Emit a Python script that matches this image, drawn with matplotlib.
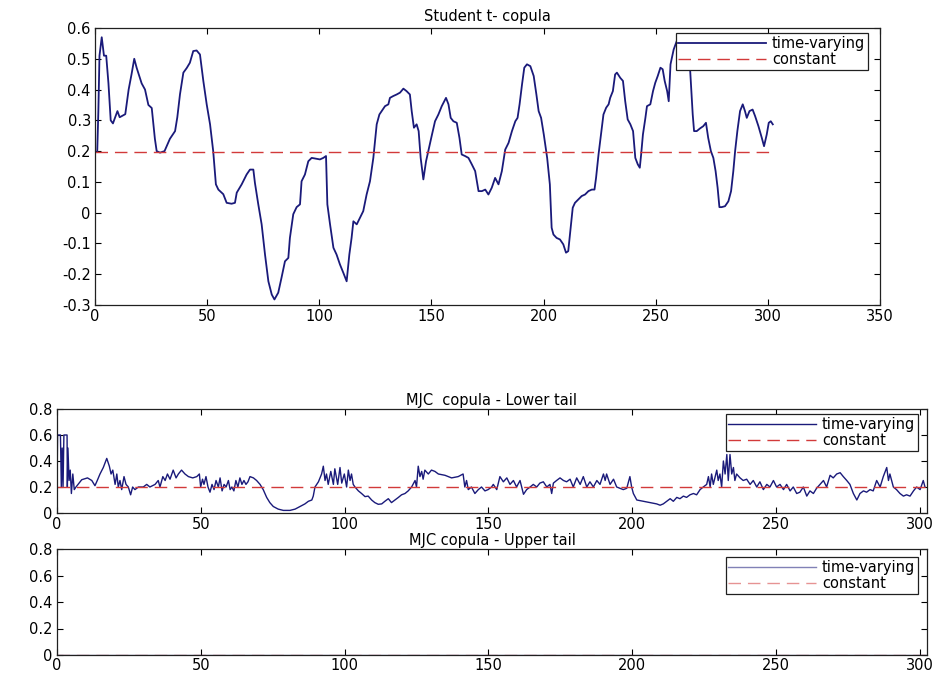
import matplotlib
matplotlib.use("Agg")
import matplotlib.pyplot as plt

plt.rcParams['font.family'] = ['DejaVu Sans']

# ---------------- data ----------------
# Student t copula: time-varying correlation
t_x = [1, 1.5, 2, 3, 4, 5, 6, 7, 8, 10, 11, 13.5, 15, 16.3, 17.5, 18.6, 20.8, 22.3, 23.8, 25.3,
       26.7, 27.5, 29, 31, 33.4, 35.7, 36.7, 37.9, 39.4, 40.9, 42.3, 43.8, 45.3, 46.8, 48.3, 49.8,
       51.3, 52.7, 53.9, 55, 57.2, 58.7, 60.9, 62.4, 63.2, 65.4, 67.6, 69.1, 70.6, 71.3, 72.8, 74.3,
       75.8, 77.3, 78.8, 80, 81.7, 83.2, 84.7, 86.2, 86.9, 88.4, 89.9, 91.4, 92.1, 93.6, 95.1, 96.6,
       98.8, 100.3, 101.8, 103, 103.6, 104.8, 106.3, 107.7, 109.2, 110.7, 112.2, 113.4, 114.4, 115.2,
       116.7, 118.1, 119.6, 121.1, 122.6, 124.1, 125.6, 126.8, 127.8, 129.3, 130.8, 131.5, 133, 134.5,
       136, 137.5, 138.9, 140.4, 141.2, 142.2, 143.4, 144.3, 145.2, 146.4, 147.6, 148.6, 150.1, 151.6,
       153.1, 154.6, 156.5, 157.6, 158.6, 159.8, 161.3, 162.5, 163.5, 165, 166.5, 168, 169.5, 171,
       172.5, 174, 175.4, 176.9, 178.4, 179.9, 181.4, 182.9, 184.4, 185.9, 187.4, 188.4, 189.3, 190.4,
       191.4, 192.6, 194.1, 195.6, 196.8, 197.8, 198.9, 200.1, 201.6, 202.8, 203.6, 204.4, 205.8,
       207.3, 208.8, 210, 211, 212.1, 213, 214, 215.5, 217, 218.5, 220, 221.5, 222.7, 223.4, 224.5,
       225.6, 226.7, 227.9, 229, 229.7, 230.9, 231.9, 232.7, 234.2, 235.4, 236.4, 237.5, 238.7, 239.9,
       240.9, 242, 242.9, 243.5, 244.3, 245.4, 246.1, 247.6, 248.8, 249.8, 250.9, 252.1, 253.1, 254,
       255.1, 255.8, 256.6, 258, 259.5, 261, 262.5, 264, 265.3, 266.5, 267.1, 268.3, 269.8, 271.2,
       272.4, 273.4, 274.6, 275.7, 276.7, 277.6, 278.4, 279.4, 280.9, 282.4, 283.6, 284.6, 285.4,
       286.4, 287.6, 288.8, 289.8, 290.6, 291.8, 293.2, 294.3, 295.8, 297.3, 298.3, 299.5, 300.4,
       301.3, 302.2]
t_tv = [0.20, 0.33, 0.51, 0.57, 0.51, 0.51, 0.42, 0.30, 0.29, 0.33, 0.31, 0.32, 0.40, 0.45, 0.50,
        0.47, 0.42, 0.40, 0.35, 0.34, 0.24, 0.20, 0.195, 0.20, 0.24, 0.265, 0.31, 0.385, 0.455, 0.47,
        0.487, 0.525, 0.527, 0.514, 0.428, 0.352, 0.287, 0.20, 0.092, 0.075, 0.06, 0.032, 0.029,
        0.032, 0.065, 0.092, 0.124, 0.14, 0.14, 0.097, 0.027, -0.038, -0.136, -0.223, -0.266, -0.282,
        -0.26, -0.21, -0.158, -0.147, -0.082, -0.005, 0.018, 0.027, 0.102, 0.124, 0.167, 0.178, 0.175,
        0.173, 0.178, 0.184, 0.027, -0.038, -0.114, -0.136, -0.168, -0.195, -0.223, -0.136, -0.082,
        -0.028, -0.038, -0.017, 0.005, 0.059, 0.102, 0.178, 0.287, 0.319, 0.33, 0.346, 0.352, 0.373,
        0.379, 0.384, 0.39, 0.403, 0.395, 0.384, 0.33, 0.276, 0.287, 0.265, 0.178, 0.108, 0.167, 0.2,
        0.249, 0.297, 0.319, 0.346, 0.373, 0.352, 0.308, 0.297, 0.292, 0.243, 0.189, 0.184, 0.178,
        0.157, 0.135, 0.07, 0.07, 0.075, 0.059, 0.081, 0.113, 0.092, 0.135, 0.205, 0.227, 0.265,
        0.297, 0.308, 0.352, 0.417, 0.471, 0.482, 0.476, 0.444, 0.384, 0.33, 0.308, 0.254, 0.178,
        0.092, -0.049, -0.071, -0.082, -0.087, -0.103, -0.13, -0.125, -0.049, 0.016, 0.032, 0.043,
        0.054, 0.059, 0.07, 0.075, 0.075, 0.113, 0.189, 0.254, 0.319, 0.341, 0.352, 0.373, 0.395,
        0.449, 0.455, 0.438, 0.428, 0.362, 0.303, 0.287, 0.265, 0.178, 0.157, 0.146, 0.189, 0.254,
        0.308, 0.346, 0.352, 0.395, 0.422, 0.444, 0.471, 0.466, 0.428, 0.395, 0.362, 0.482, 0.53,
        0.56, 0.57, 0.55, 0.52, 0.47, 0.319, 0.265, 0.265, 0.274, 0.281, 0.292, 0.243, 0.2, 0.178,
        0.135, 0.081, 0.018, 0.018, 0.021, 0.037, 0.07, 0.135, 0.2, 0.265, 0.33, 0.352, 0.33, 0.308,
        0.33, 0.335, 0.314, 0.281, 0.243, 0.216, 0.254, 0.292, 0.297, 0.287]
t_const_x = [0, 302]
t_const = [0.198, 0.198]

# MJC copula - lower tail dependence
low_x = [0, 0.2, 1.2, 1.5, 1.8, 2.1, 2.4, 3.5, 3.6, 3.8, 4.2, 4.6, 5, 5.5, 6, 6.6,
         8.6, 10.6, 12.1, 13.2, 14.0, 14.95, 16.1, 17.3, 18.2, 18.8, 19.4, 20.2, 20.8, 21.3, 21.9,
         22.5, 23.3, 24.0, 24.8, 25.6, 26.3, 27.1, 28.3, 30.0, 31.2, 32.3, 34.1, 35.2, 35.8, 36.8,
         37.6, 38.4, 39.3, 40.4, 41.4, 42.2, 43.3, 44.5, 45.7, 47.2, 48.6, 49.5, 49.95, 50.6, 51.1,
         51.8, 52.5, 53.2, 53.9, 54.6, 55.3, 56.1, 56.7, 57.4, 58.1, 58.8, 59.6, 60.2, 60.8, 61.5,
         62.2, 62.9, 63.6, 64.3, 65.0, 65.7, 66.4, 67.1, 68.3, 69.4, 70.6, 71.7, 72.9, 74.0, 75.2,
         76.9, 78.7, 81.0, 82.8, 84.5, 86.2, 87.4, 88.6, 89.1, 89.7, 90.9,
         92.0, 92.6, 93.2, 93.7, 94.3, 95.2, 96.1, 96.6, 97.6, 98.4, 99.0, 99.9, 100.7, 101.3, 101.9,
         102.4, 103.0, 103.6, 104.8, 105.9, 107.1, 108.2, 109.4, 110.5, 111.7, 112.9, 114.0, 115.2,
         116.3, 117.5, 118.7, 119.8, 121.0, 122.1, 123.3, 124.5, 125.0, 125.6, 126.2, 126.8, 127.3,
         127.9, 129.1, 130.2, 131.4, 132.6, 134.9, 137.2, 139.5, 141.2, 141.8, 142.4, 143.0, 144.1,
         145.3, 146.5, 147.6, 148.8, 149.9, 151.1,
         151.7, 152.9, 154.0, 155.2, 156.4, 157.5, 158.7, 159.8, 161.0, 162.2, 163.3, 164.5, 165.6,
         166.8, 167.9, 169.1, 170.3, 171.4, 172.0, 172.6, 173.7, 174.9, 176.1, 177.2, 178.4, 179.5,
         180.7, 181.9, 183.0, 184.2, 185.3, 186.5, 187.7, 188.8, 190.0, 190.6, 191.1, 192.3, 193.5,
         194.6, 195.8, 196.9, 198.1, 199.2, 199.8, 200.4, 201.6, 203.9, 206.2, 208.5, 209.7, 210.8,
         212.0, 213.2, 214.3, 215.5, 216.6, 217.8, 218.9, 220.1, 221.3, 222.4, 223.6, 224.7, 225.9,
         226.5, 227.1, 227.6, 228.2, 229.4, 229.9, 230.5, 231.1, 231.7, 232.3, 232.9, 233.4, 234.0,
         234.6, 235.2, 235.7, 236.3, 237.5, 238.6, 239.8, 241.0, 242.1, 243.3, 244.4, 245.6, 246.8,
         247.9, 249.1, 250.2, 251.4, 252.6, 253.7, 254.9, 256.0, 257.2, 258.3, 259.5, 260.7, 261.8,
         263.0, 264.1, 265.3, 266.5, 267.6, 268.8, 269.9, 271.1, 272.3, 273.4, 274.6, 275.7, 276.9,
         278.1, 279.2, 280.4, 281.5, 282.7, 283.8, 285.0, 286.2, 287.3, 288.5, 289.1, 289.6, 290.8,
         291.9, 293.1, 294.3, 295.4, 296.6, 297.8, 298.9, 300.1, 301.2, 301.8]
low_tv = [0.2, 0.6, 0.6, 0.2, 0.5, 0.2, 0.6, 0.6, 0.2, 0.5, 0.25, 0.33, 0.15, 0.3, 0.18, 0.2,
          0.256, 0.27, 0.25, 0.21, 0.25, 0.30, 0.35, 0.42, 0.36, 0.30, 0.33, 0.22, 0.30, 0.20, 0.25,
          0.18, 0.28, 0.22, 0.20, 0.14, 0.20, 0.18, 0.20, 0.20, 0.22, 0.20, 0.22, 0.25, 0.20, 0.28,
          0.25, 0.30, 0.26, 0.33, 0.27, 0.30, 0.33, 0.30, 0.28, 0.27, 0.28, 0.30, 0.20, 0.26, 0.22,
          0.28, 0.20, 0.16, 0.22, 0.18, 0.25, 0.20, 0.27, 0.17, 0.22, 0.20, 0.25, 0.18, 0.20, 0.17,
          0.25, 0.20, 0.27, 0.22, 0.25, 0.22, 0.24, 0.28, 0.27, 0.25, 0.22, 0.18, 0.12, 0.08, 0.05,
          0.03, 0.02, 0.02, 0.03, 0.05, 0.07, 0.09, 0.10, 0.13, 0.20, 0.24,
          0.30, 0.36, 0.25, 0.30, 0.22, 0.32, 0.22, 0.34, 0.22, 0.35, 0.23, 0.30, 0.20, 0.33, 0.25,
          0.30, 0.22, 0.20, 0.17, 0.15, 0.126, 0.13, 0.10, 0.08, 0.067, 0.07, 0.09, 0.11,
          0.08, 0.10, 0.12, 0.14, 0.15, 0.17, 0.20, 0.25, 0.20, 0.36, 0.28, 0.32, 0.26,
          0.33, 0.30, 0.33, 0.32, 0.30, 0.29, 0.27, 0.28, 0.30, 0.20, 0.25, 0.18, 0.20,
          0.15, 0.18, 0.20, 0.17, 0.18, 0.20,
          0.22, 0.18, 0.28, 0.24, 0.27, 0.22, 0.25, 0.20, 0.25, 0.144, 0.18, 0.20, 0.22,
          0.20, 0.23, 0.24, 0.20, 0.22, 0.15, 0.23, 0.25, 0.27, 0.25, 0.24, 0.26, 0.20,
          0.27, 0.22, 0.28, 0.20, 0.24, 0.20, 0.25, 0.22, 0.30, 0.25, 0.30, 0.22, 0.26,
          0.20, 0.19, 0.18, 0.19, 0.28, 0.20, 0.15, 0.10, 0.09, 0.08, 0.07, 0.06, 0.07,
          0.09, 0.11, 0.09, 0.12, 0.11, 0.13, 0.12, 0.14, 0.15, 0.14, 0.18, 0.20, 0.22,
          0.28, 0.20, 0.30, 0.22, 0.33, 0.25, 0.30, 0.20, 0.40, 0.30, 0.45, 0.25, 0.45,
          0.30, 0.35, 0.25, 0.30, 0.27, 0.25, 0.26, 0.22, 0.25, 0.20, 0.24, 0.18, 0.22,
          0.20, 0.25, 0.20, 0.22, 0.18, 0.22, 0.17, 0.20, 0.15, 0.16, 0.20, 0.13, 0.17,
          0.15, 0.19, 0.22, 0.25, 0.20, 0.29, 0.27, 0.30, 0.31, 0.28, 0.25, 0.22, 0.15,
          0.10, 0.15, 0.17, 0.16, 0.18, 0.17, 0.25, 0.20, 0.28, 0.35, 0.25, 0.30, 0.20,
          0.18, 0.15, 0.13, 0.14, 0.13, 0.17, 0.20, 0.18, 0.25, 0.20]
low_const_x = [0, 302]
low_const = [0.2, 0.2]

# MJC copula - upper tail dependence (identically zero)
up_x = [0, 302]
up_tv = [0.0, 0.0]
up_const = [0.0, 0.0]

titles = ["Student t- copula", "MJC  copula - Lower tail", "MJC copula - Upper tail"]
legend_labels = ["time-varying", "constant"]

# ---------------- styling ----------------
W, H = 945, 675
BLUE = "#1a1a7a"
RED = "#d23a3a"
FS = 10.5

fig = plt.figure(figsize=(W / 100, H / 100), dpi=100)


def make_axes(l, t, r, b):
    return fig.add_axes([l / W, 1 - b / H, (r - l) / W, (b - t) / H])


def style(ax, xpad=3):
    ax.tick_params(direction="in", top=True, right=True, length=4, width=0.8,
                   labelsize=FS, pad=3, colors="black")
    ax.tick_params(axis="x", pad=xpad)
    for s in ax.spines.values():
        s.set_linewidth(0.9)
        s.set_color("#202020")


def fmt(v):
    s = ("%.1f" % v)
    if s in ("0.0", "-0.0"):
        return "0"
    return s


def add_legend(ax, anchor, hl):
    leg = ax.legend(loc="upper right", bbox_to_anchor=anchor, borderaxespad=0,
                    fontsize=FS, fancybox=False, framealpha=1, edgecolor="#202020",
                    handlelength=hl, handletextpad=0.4, borderpad=0.2, labelspacing=0.1)
    leg.get_frame().set_linewidth(0.9)
    return leg


# Top panel
ax1 = make_axes(95, 28, 880, 305)
ax1.plot(t_x, t_tv, color=BLUE, lw=1.3, label=legend_labels[0])
ax1.plot(t_const_x, t_const, color=RED, lw=1.0, dashes=(9, 5), label=legend_labels[1])
ax1.set_xlim(0, 350)
ax1.set_ylim(-0.3, 0.6)
yt = [-0.3, -0.2, -0.1, 0, 0.1, 0.2, 0.3, 0.4, 0.5, 0.6]
ax1.set_yticks(yt)
ax1.set_yticklabels([fmt(v) for v in yt])
ax1.set_xticks(range(0, 351, 50))
ax1.set_title(titles[0], fontsize=FS, pad=5)
style(ax1)
add_legend(ax1, (1 - 12 / 785, 1 - 5 / 277), 6.0)

# Middle panel
ax2 = make_axes(57, 409, 927, 513)
ax2.plot(low_x, low_tv, color=BLUE, lw=1.0, label=legend_labels[0])
ax2.plot(low_const_x, low_const, color=RED, lw=1.0, dashes=(9, 5), label=legend_labels[1])
ax2.set_xlim(0, 302.5)
ax2.set_ylim(0, 0.8)
yt2 = [0, 0.2, 0.4, 0.6, 0.8]
ax2.set_yticks(yt2)
ax2.set_yticklabels([fmt(v) for v in yt2])
ax2.set_xticks(range(0, 301, 50))
ax2.set_title(titles[1], fontsize=FS, pad=3)
style(ax2)
add_legend(ax2, (1 - 9 / 870, 1 - 5 / 104), 6.0)

# Bottom panel
ax3 = make_axes(57, 549, 927, 655)
ax3.plot(up_x, up_tv, color=BLUE, lw=1.0, alpha=0.55, label=legend_labels[0])
ax3.plot(up_x, up_const, color=RED, lw=1.0, alpha=0.55, dashes=(9, 5), label=legend_labels[1])
ax3.set_xlim(0, 302.5)
ax3.set_ylim(0, 0.8)
ax3.set_yticks(yt2)
ax3.set_yticklabels([fmt(v) for v in yt2])
ax3.set_xticks(range(0, 301, 50))
ax3.set_title(titles[2], fontsize=FS, pad=3)
style(ax3, xpad=2)
add_legend(ax3, (1 - 9 / 870, 1 - 8 / 106), 6.0)

fig.savefig("out.png", dpi=100)
